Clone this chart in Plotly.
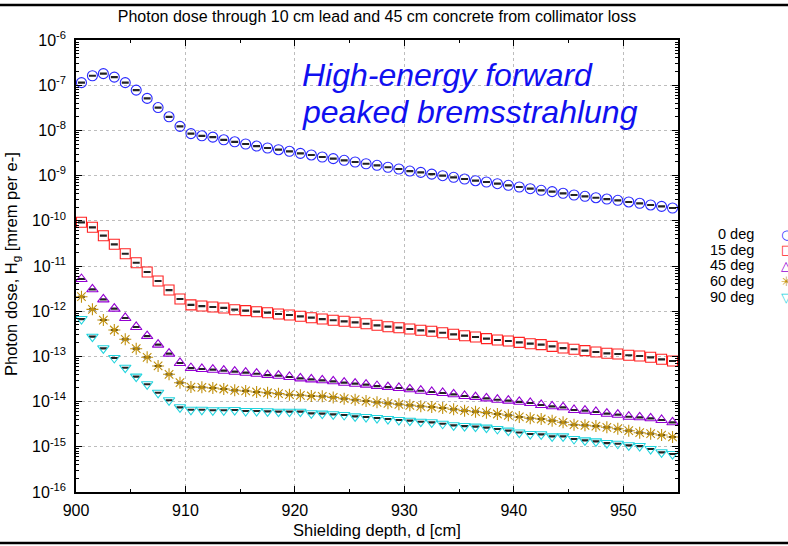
import plotly.graph_objects as go

depth = [900.5 + i for i in range(55)]

dose_0deg = [1.14e-7, 1.62e-7, 1.80e-7, 1.51e-7, 1.14e-7, 7.8e-8, 5.1e-8, 3.2e-8, 2.0e-8, 1.23e-8,
             8.5e-9, 7.6e-9, 7.1e-9, 6.2e-9, 5.6e-9, 5.0e-9, 4.5e-9, 4.08e-9, 3.74e-9, 3.45e-9,
             3.11e-9, 2.86e-9, 2.58e-9, 2.37e-9, 2.18e-9, 2.0e-9, 1.83e-9, 1.69e-9, 1.53e-9, 1.40e-9,
             1.26e-9, 1.18e-9, 1.08e-9, 9.95e-10, 9.16e-10, 8.41e-10, 7.71e-10, 7.21e-10, 6.62e-10, 6.10e-10,
             5.60e-10, 5.13e-10, 4.73e-10, 4.41e-10, 4.06e-10, 3.72e-10, 3.48e-10, 3.24e-10, 3.03e-10, 2.84e-10,
             2.61e-10, 2.44e-10, 2.24e-10, 2.09e-10, 1.92e-10]

dose_15deg = [9.27e-11, 7.18e-11, 4.68e-11, 3.02e-11, 1.87e-11, 1.18e-11, 7.36e-12, 4.66e-12, 2.94e-12, 1.86e-12,
              1.38e-12, 1.30e-12, 1.24e-12, 1.18e-12, 1.08e-12, 1.03e-12, 9.75e-13, 9.27e-13, 8.67e-13, 8.24e-13,
              7.71e-13, 7.18e-13, 6.71e-13, 6.30e-13, 5.98e-13, 5.68e-13, 5.28e-13, 4.88e-13, 4.54e-13, 4.32e-13,
              4.04e-13, 3.78e-13, 3.59e-13, 3.34e-13, 3.08e-13, 2.87e-13, 2.69e-13, 2.47e-13, 2.31e-13, 2.19e-13,
              2.04e-13, 1.91e-13, 1.82e-13, 1.67e-13, 1.53e-13, 1.44e-13, 1.34e-13, 1.25e-13, 1.17e-13, 1.13e-13,
              1.06e-13, 1.02e-13, 9.55e-14, 8.63e-14, 7.91e-14]

dose_45deg = [5.15e-12, 3.05e-12, 1.83e-12, 1.14e-12, 7.08e-13, 4.47e-13, 2.82e-13, 1.82e-13, 1.15e-13, 7.14e-14,
              5.53e-14, 5.27e-14, 5.08e-14, 4.83e-14, 4.59e-14, 4.36e-14, 4.14e-14, 3.87e-14, 3.74e-14, 3.50e-14,
              3.27e-14, 3.11e-14, 2.96e-14, 2.81e-14, 2.62e-14, 2.49e-14, 2.37e-14, 2.21e-14, 2.10e-14, 2.00e-14,
              1.87e-14, 1.74e-14, 1.63e-14, 1.55e-14, 1.45e-14, 1.33e-14, 1.26e-14, 1.18e-14, 1.10e-14, 1.05e-14,
              9.9e-15, 9.3e-15, 8.4e-15, 7.87e-15, 7.48e-15, 6.52e-15, 6.30e-15, 5.89e-15, 5.40e-15, 5.13e-15,
              4.63e-15, 4.49e-15, 4.27e-15, 3.92e-15, 3.48e-15]

dose_60deg = [2.09e-12, 1.10e-12, 6.38e-13, 3.84e-13, 2.39e-13, 1.48e-13, 9.55e-14, 6.14e-14, 4.02e-14, 2.62e-14,
              2.10e-14, 2.07e-14, 2.00e-14, 1.90e-14, 1.78e-14, 1.72e-14, 1.63e-14, 1.57e-14, 1.50e-14, 1.42e-14,
              1.38e-14, 1.33e-14, 1.31e-14, 1.24e-14, 1.16e-14, 1.10e-14, 1.03e-14, 9.64e-15, 9.16e-15, 8.71e-15,
              8.28e-15, 7.87e-15, 7.59e-15, 7.21e-15, 6.75e-15, 6.30e-15, 5.98e-15, 5.69e-15, 5.32e-15, 4.98e-15,
              4.57e-15, 4.27e-15, 4.12e-15, 3.78e-15, 3.48e-15, 3.08e-15, 2.99e-15, 2.88e-15, 2.70e-15, 2.51e-15,
              2.27e-15, 2.05e-15, 1.95e-15, 1.82e-15, 1.65e-15]

dose_90deg = [6.71e-13, 2.73e-13, 1.51e-13, 9.23e-14, 5.62e-14, 3.56e-14, 2.42e-14, 1.57e-14, 1.07e-14, 7.48e-15,
              6.61e-15, 6.61e-15, 6.43e-15, 6.43e-15, 6.52e-15, 6.19e-15, 6.19e-15, 6.10e-15, 5.98e-15, 5.98e-15,
              5.98e-15, 5.51e-15, 5.41e-15, 5.24e-15, 5.06e-15, 4.72e-15, 4.56e-15, 4.34e-15, 4.12e-15, 3.92e-15,
              3.78e-15, 3.59e-15, 3.48e-15, 3.24e-15, 2.99e-15, 2.88e-15, 2.79e-15, 2.65e-15, 2.48e-15, 2.28e-15,
              2.07e-15, 1.92e-15, 1.89e-15, 1.70e-15, 1.70e-15, 1.49e-15, 1.39e-15, 1.32e-15, 1.21e-15, 1.17e-15,
              1.08e-15, 1.04e-15, 8.93e-16, 7.55e-16, 6.93e-16]

series_names = ["0 deg", "15 deg", "45 deg", "60 deg", "90 deg"]
series_values = [dose_0deg, dose_15deg, dose_45deg, dose_60deg, dose_90deg]
colors = ["#2a2aff", "#ff2222", "#9400d3", "#c0900c", "#22d4de"]
symbols = ["circle-open", "square-open", "triangle-up-open", "asterisk-open", "triangle-down-open"]
key_glyphs = ["○", "□", "△", "✳", "▽"]

x_ticks = [900, 910, 920, 930, 940, 950]
y_exps = list(range(-16, -5))
y_tickvals = [10.0 ** e for e in y_exps]
y_ticktext = ["10<sup>%d</sup>" % e for e in y_exps]

FONT = "Liberation Sans, Arial, sans-serif"
W, H = 788, 546
L, R, T, B = 76, 110, 40, 54
pw, ph = W - L - R, H - T - B

def px(xp):
    return (xp - L) / pw

def py(yp):
    return (H - B - yp) / ph

fig = go.Figure()

err = dict(type="percent", value=2.5, width=3.5, thickness=1.2, color="#222222")

for name, vals, c, s in zip(series_names, series_values, colors, symbols):
    fig.add_trace(go.Scatter(
        x=depth, y=vals, mode="markers", name=name, showlegend=False,
        marker=dict(symbol=s, size=10, color=c, line=dict(color=c, width=1.1)),
        error_y=err,
    ))

# gnuplot-style key: text then symbol, on the right (symbol clipped at the edge)
key_rows = [234, 250, 265, 281, 297]
for name, c, g, yr in zip(series_names, colors, key_glyphs, key_rows):
    fig.add_annotation(x=px(756), y=py(yr), xref="paper", yref="paper",
                       text=name, showarrow=False, xanchor="right", yanchor="middle",
                       font=dict(family=FONT, size=14.5, color="black"))
    fig.add_annotation(x=px(779), y=py(yr), xref="paper", yref="paper",
                       text=g, showarrow=False, xanchor="left", yanchor="middle",
                       font=dict(family="DejaVu Sans", size=13, color=c))

axis_common = dict(showline=True, linecolor="black", linewidth=1.5, mirror="allticks",
                   ticks="inside", ticklen=6, tickwidth=1, tickcolor="black",
                   showgrid=True, gridcolor="#bdbdbd", griddash="dot", gridwidth=1,
                   zeroline=False, tickfont=dict(family=FONT, size=16, color="black"))

fig.update_layout(
    width=W, height=H, margin=dict(l=L, r=R, t=T, b=B),
    paper_bgcolor="white", plot_bgcolor="white",
    font=dict(family=FONT, color="black"),
    title=dict(text="Photon dose through 10 cm lead and 45 cm concrete from collimator loss",
               x=0.5, xref="paper", y=1 - 16 / H, yanchor="middle",
               font=dict(family=FONT, size=16, color="black")),
    xaxis=dict(range=[900, 955], tickvals=x_ticks, ticklabelstandoff=3,
               minor=dict(dtick=5, ticks="inside", ticklen=3, tickcolor="black", showgrid=False),
               **axis_common),
    yaxis=dict(type="log", range=[-16, -6], tickvals=y_tickvals, ticktext=y_ticktext,
               ticklabelstandoff=5,
               minor=dict(dtick="D1", ticks="inside", ticklen=3, tickcolor="black", showgrid=False),
               **axis_common),
    showlegend=False,
)

fig.add_annotation(x=0.5, y=py(530), xref="paper", yref="paper", text="Shielding depth, d [cm]",
                   showarrow=False, xanchor="center", yanchor="middle",
                   font=dict(family=FONT, size=16.5, color="black"))
fig.add_annotation(x=px(12), y=py(264), xref="paper", yref="paper",
                   text="Photon dose, H<sub>g</sub> [mrem per e-]", textangle=-90,
                   showarrow=False, xanchor="center", yanchor="middle",
                   font=dict(family=FONT, size=16.5, color="black"))
fig.add_annotation(x=px(300), y=py(75), xref="paper", yref="paper",
                   text="<i>High-energy forward</i>",
                   showarrow=False, xanchor="left", yanchor="middle", align="left",
                   font=dict(family=FONT, size=32, color="#1010f0"))
fig.add_annotation(x=px(300), y=py(112), xref="paper", yref="paper",
                   text="<i>peaked bremsstrahlung</i>",
                   showarrow=False, xanchor="left", yanchor="middle", align="left",
                   font=dict(family=FONT, size=32, color="#1010f0"))

# frame lines at top and bottom of the image
for yp in (5, 543):
    fig.add_shape(type="line", xref="paper", yref="paper",
                  x0=px(0), x1=px(W), y0=py(yp), y1=py(yp),
                  line=dict(color="black", width=2.5))

fig.write_html("out.html")
